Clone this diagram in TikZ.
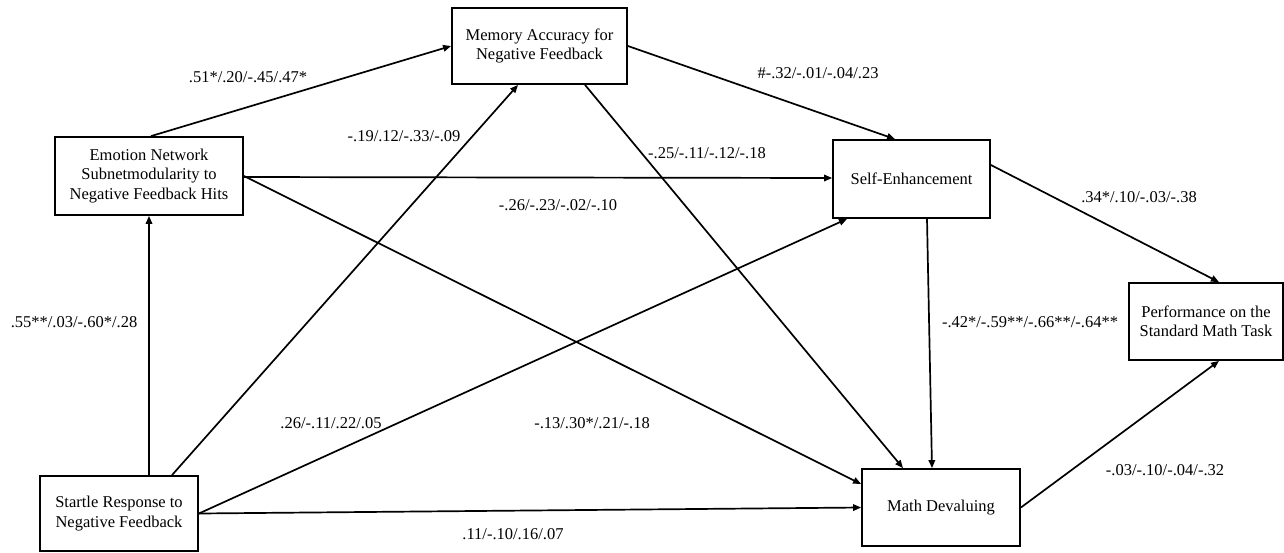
\documentclass[tikz,border=0pt]{standalone}
\usepackage{fontspec}
\setmainfont{Liberation Serif}
\usetikzlibrary{arrows.meta,calc}
\begin{document}
\begin{tikzpicture}[x=1pt,y=-1pt,
  every node/.style={font=\fontsize{16.5}{19.5}\selectfont},
  box/.style={draw,line width=1.8pt,align=center,inner sep=2pt},
  lbl/.style={inner sep=0pt},
  arr/.style={line width=1.7pt,-{Triangle[length=8pt,width=6.5pt]}}]
\useasboundingbox (0,0) rectangle (1284,552);
% boxes
\node[box,minimum width=175pt,minimum height=76pt] (mem) at (539.5,46) {Memory Accuracy for\\Negative Feedback};
\node[box,minimum width=188pt,minimum height=78pt] (emo) at (149,176) {Emotion Network\\Subnetmodularity to\\Negative Feedback Hits};
\node[box,minimum width=158pt,minimum height=75pt] (st) at (119,513.5) {Startle Response to\\Negative Feedback};
\node[box,minimum width=157pt,minimum height=78pt] (se) at (911.5,179) {Self-Enhancement};
\node[box,minimum width=158pt,minimum height=77pt] (md) at (941,507.5) {Math Devaluing};
\node[box,minimum width=154pt,minimum height=77pt] (pf) at (1206,321.5) {Performance on the\\Standard Math Task};
% connectors
\draw[arr] ($(emo.north)+(2,0)$) -- (mem.west);
\draw[arr] (st.north -| emo.south) -- (emo.south);
\draw[arr] ($(st.north)+(53,0)$) -- ($(mem.south)+(-21.5,0)$);
\draw[arr] (st.east) -- ($(se.south)+(-64.5,0)$);
\draw[arr] (st.east) -- (md.west);
\draw[arr] ($(emo.east)+(0,1)$) -- ($(se.west)+(0,-1)$);
\draw[arr] (emo.east) -- ($(md.west)+(0,-23.5)$);
\draw[arr] (mem.east) -- ($(se.north)+(-16.5,0)$);
\draw[arr] ($(mem.south)+(45.5,0)$) -- ($(md.north)+(-38,0)$);
\draw[arr] ($(se.south)+(15.5,0)$) -- ($(md.north)+(-9,0)$);
\draw[arr] ($(se.east)+(0,-14)$) -- ($(pf.north)+(13,0)$);
\draw[arr] (md.east) -- ($(pf.south)+(13,0)$);
% labels
\node[lbl] (l1) at (248,77) {.51*/.20/-.45/.47*};
\node[lbl] (l2) at (404,136) {-.19/.12/-.33/-.09};
\node[lbl] (l3) at (558,205) {-.26/-.23/-.02/-.10};
\node[lbl] (l4) at (818,73) {\#-.32/-.01/-.04/.23};
\node[lbl] (l5) at (707,153) {-.25/-.11/-.12/-.18};
\node[lbl] (l6) at (1139,197) {.34*/.10/-.03/-.38};
\node[lbl] (l7) at (74,322) {.55**/.03/-.60*/.28};
\node[lbl] (l8) at (331,423) {.26/-.11/.22/.05};
\node[lbl] (l9) at (592,423) {-.13/.30*/.21/-.18};
\node[lbl] (l10) at (513,534) {.11/-.10/.16/.07};
\node[lbl] (l11) at (1030,322) {-.42*/-.59**/-.66**/-.64**};
\node[lbl] (l12) at (1165,470) {-.03/-.10/-.04/-.32};
\end{tikzpicture}
\end{document}
